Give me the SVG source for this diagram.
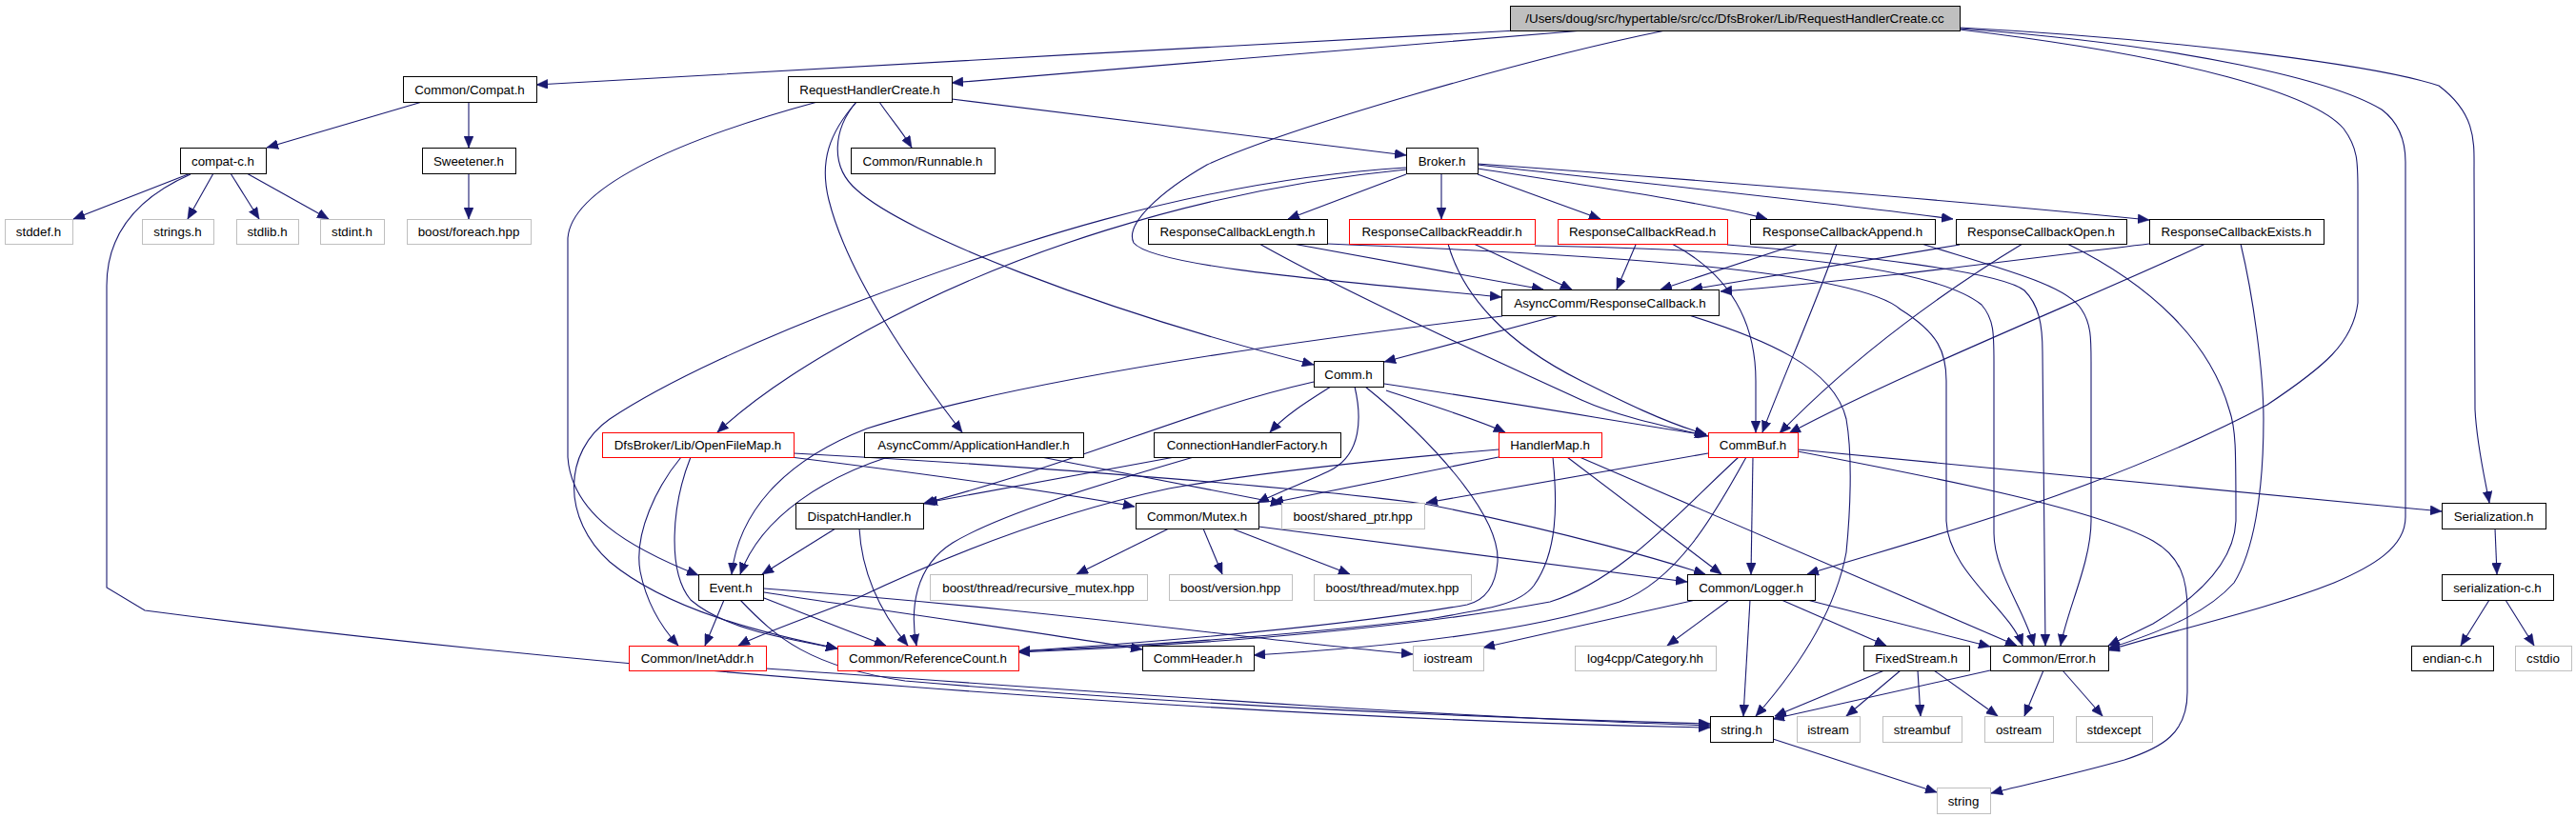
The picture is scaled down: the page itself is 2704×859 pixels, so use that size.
<svg xmlns="http://www.w3.org/2000/svg" width="2704" height="859" viewBox="0 0 2704 859">
<style>
.n{fill:#fff;stroke:#000;stroke-width:1}
.r{fill:#fff;stroke:#ff0000;stroke-width:1}
.g{fill:#fff;stroke:#bfbfbf;stroke-width:1}
.root{fill:#bfbfbf;stroke:#000;stroke-width:1}
text{font-family:"Liberation Sans",Arial,sans-serif;font-size:13.33px;fill:#000;text-anchor:middle}
#edges path{fill:none;stroke:#191970;stroke-width:1.1;marker-end:url(#a)}
</style>
<defs>
<marker id="a" markerUnits="userSpaceOnUse" markerWidth="13" markerHeight="10" refX="12" refY="5" orient="auto" viewBox="0 0 13 10"><path d="M0,0 L12,5 L0,10z" fill="#191970" stroke="#191970" stroke-width="0.5"/></marker>
</defs>
<rect width="2704" height="859" fill="#fff"/>
<g id="edges">
<path d="M1592,32 C1300,46 800,77 563,89"/>
<path d="M1662,32 C1500,45 1200,70 999,87"/>
<path d="M1748,32 C1600,62 1350,135 1267,173 C1220,200 1180,235 1190,255 C1210,280 1400,295 1576,312"/>
<path d="M2057,31 C2300,60 2430,100 2460,135 C2475,155 2475,170 2475,200 L2475,318 C2470,360 2440,385 2380,425 C2200,520 2000,570 1897,603"/>
<path d="M2057,30 C2300,48 2450,85 2500,115 C2520,130 2525,150 2525,170 L2525,543 C2525,575 2490,595 2450,612 C2380,640 2280,662 2213,683"/>
<path d="M2057,29 C2300,42 2500,70 2560,90 C2600,120 2597,150 2597,180 L2598,430 C2600,470 2610,510 2613,528"/>
<path d="M443,107 L280,155"/>
<path d="M492,107 L492,155"/>
<path d="M200,182 L77,230"/>
<path d="M224,182 L197,230"/>
<path d="M242,182 L272,230"/>
<path d="M259,182 L345,230"/>
<path d="M200,183 C150,205 112,240 112,300 L112,617 L152,641 C600,700 1300,755 1795,764"/>
<path d="M492,182 L492,230"/>
<path d="M923,107 C935,125 945,135 957,155"/>
<path d="M999,104 L1476,163"/>
<path d="M899,107 C875,135 870,175 900,200 C950,245 1150,325 1379,383"/>
<path d="M899,107 C870,140 860,170 870,210 C890,290 960,390 1010,454"/>
<path d="M858,107 C700,150 600,200 596,250 L596,480 C600,540 660,575 733,604"/>
<path d="M1476,183 L1352,230"/>
<path d="M1513,182 L1513,230"/>
<path d="M1551,183 L1680,230"/>
<path d="M1551,177 C1700,200 1800,215 1855,230"/>
<path d="M1551,173 C1700,190 1900,210 2050,230"/>
<path d="M1551,172 C1800,190 2100,215 2256,231"/>
<path d="M1476,178 C1250,200 1050,270 910,347 C860,375 800,410 753,454"/>
<path d="M1476,176 C1250,190 1050,260 900,317 C800,355 700,400 640,440 C590,475 590,545 640,590 C700,640 800,665 879,681"/>
<path d="M1357,256 L1620,304"/>
<path d="M1322,256 C1400,300 1550,370 1660,420 C1700,438 1750,448 1793,458"/>
<path d="M1393,256 C1700,268 1950,285 1995,325 C2035,350 2043,370 2043,400 L2043,547 C2045,600 2110,640 2123,678"/>
<path d="M1547,256 L1650,304"/>
<path d="M1520,256 C1535,310 1580,360 1660,400 C1700,420 1750,445 1791,456"/>
<path d="M1611,258 C1850,262 2030,280 2080,320 C2093,335 2093,350 2093,380 L2093,560 C2093,600 2125,640 2135,678"/>
<path d="M1717,257 L1697,304"/>
<path d="M1755,256 C1810,285 1843,330 1843,400 L1843,454"/>
<path d="M1813,257 C1950,268 2100,285 2125,305 C2140,320 2144,340 2144,370 L2147,678"/>
<path d="M1888,256 L1743,304"/>
<path d="M1928,256 C1910,310 1870,400 1850,454"/>
<path d="M2017,256 C2110,285 2170,300 2185,325 C2195,340 2195,355 2195,380 L2195,547 C2195,590 2170,640 2163,678"/>
<path d="M2057,257 L1775,304"/>
<path d="M2123,256 C2050,300 1950,370 1868,455"/>
<path d="M2170,256 C2260,300 2320,360 2340,430 C2347,450 2347,470 2347,547 C2345,590 2310,625 2260,655 L2213,678"/>
<path d="M2256,256 C2100,275 1950,295 1806,306"/>
<path d="M2315,256 C2200,310 2000,390 1878,455"/>
<path d="M2352,256 C2365,310 2376,390 2376,440 C2376,520 2365,580 2345,612 C2320,640 2280,660 2213,681"/>
<path d="M1637,331 L1453,380"/>
<path d="M1577,332 C1300,365 1050,405 910,450 C820,485 775,540 768,603"/>
<path d="M1773,331 C1850,355 1925,385 1938,440 C1945,480 1942,540 1938,580 C1925,650 1880,710 1843,752"/>
<path d="M1379,401 C1250,430 1150,480 969,529"/>
<path d="M1397,406 C1375,420 1350,435 1333,454"/>
<path d="M1422,406 C1430,440 1428,475 1400,492 C1380,503 1345,515 1320,528"/>
<path d="M1433,406 C1500,460 1575,540 1572,590 C1570,615 1560,630 1540,635 C1400,660 1200,675 1069,684"/>
<path d="M1455,410 C1500,425 1550,440 1580,454"/>
<path d="M1453,403 C1600,425 1700,443 1791,457"/>
<path d="M1573,472 C1420,485 1300,500 1227,513 C1100,540 980,590 900,628 C850,648 800,665 775,678"/>
<path d="M1573,480 L1335,528"/>
<path d="M1630,480 C1635,530 1635,580 1610,615 C1595,635 1560,640 1500,650 C1350,668 1200,678 1069,684"/>
<path d="M1645,480 L1807,603"/>
<path d="M1658,480 L2117,678"/>
<path d="M1840,480 L1838,603"/>
<path d="M1825,480 C1760,540 1700,610 1627,632 C1450,665 1200,680 1069,685"/>
<path d="M1833,480 C1800,540 1760,610 1700,632 C1600,665 1450,680 1316,688"/>
<path d="M1793,476 L1497,528"/>
<path d="M1887,472 L2563,537"/>
<path d="M1887,474 C2050,505 2200,535 2260,568 C2290,585 2296,610 2296,640 L2296,727 C2296,770 2270,785 2230,798 C2170,815 2120,825 2090,833"/>
<path d="M1227,555 L1130,603"/>
<path d="M1263,555 L1283,603"/>
<path d="M1293,555 L1417,603"/>
<path d="M1321,553 L1771,611"/>
<path d="M833,476 C1100,490 1400,515 1500,530 C1650,560 1750,590 1790,603"/>
<path d="M830,480 C950,495 1100,515 1191,532"/>
<path d="M715,480 C690,510 665,560 672,600 C680,640 700,665 712,678"/>
<path d="M725,480 C705,530 700,600 725,630 C760,660 820,670 879,681"/>
<path d="M932,480 C870,500 800,540 777,603"/>
<path d="M1093,480 L1346,529"/>
<path d="M877,555 L800,603"/>
<path d="M902,555 C905,610 930,650 953,678"/>
<path d="M1233,480 L972,528"/>
<path d="M1253,480 C1150,510 1050,540 1000,570 C960,595 955,640 962,678"/>
<path d="M760,630 L740,678"/>
<path d="M802,628 L930,678"/>
<path d="M802,622 C950,645 1100,665 1199,682"/>
<path d="M802,618 C1100,640 1300,670 1483,687"/>
<path d="M777,630 C815,670 850,700 950,715 C1300,745 1600,755 1795,760"/>
<path d="M804,702 C1200,730 1500,752 1795,762"/>
<path d="M1815,630 L1750,678"/>
<path d="M1780,630 L1557,680"/>
<path d="M1837,630 L1830,752"/>
<path d="M1870,630 L1980,678"/>
<path d="M1897,630 L2089,679"/>
<path d="M1978,704 L1863,752"/>
<path d="M1995,704 L1938,752"/>
<path d="M2013,704 L2016,752"/>
<path d="M2030,704 L2097,752"/>
<path d="M2089,704 L1861,755"/>
<path d="M2145,704 L2125,752"/>
<path d="M2165,704 L2207,752"/>
<path d="M1861,776 L2033,832"/>
<path d="M2619,555 L2621,603"/>
<path d="M2613,630 L2583,678"/>
<path d="M2630,630 L2660,678"/>
</g>
<g id="root"><rect class="root" x="1585.5" y="6.5" width="472" height="26"/><text x="1821" y="24">/Users/doug/src/hypertable/src/cc/DfsBroker/Lib/RequestHandlerCreate.cc</text></g>
<g id="compat"><rect class="n" x="423.5" y="80.5" width="140" height="27"/><text x="493" y="98.5">Common/Compat.h</text></g>
<g id="rhc"><rect class="n" x="827.5" y="80.5" width="172" height="27"/><text x="913" y="98.5">RequestHandlerCreate.h</text></g>
<g id="compatc"><rect class="n" x="189.5" y="155.5" width="90" height="27"/><text x="234" y="173.5">compat-c.h</text></g>
<g id="sweetener"><rect class="n" x="443.5" y="155.5" width="98" height="27"/><text x="492" y="173.5">Sweetener.h</text></g>
<g id="runnable"><rect class="n" x="893.5" y="155.5" width="151" height="27"/><text x="968.5" y="173.5">Common/Runnable.h</text></g>
<g id="broker"><rect class="n" x="1476.5" y="155.5" width="75" height="27"/><text x="1513.5" y="173.5">Broker.h</text></g>
<g id="stddef"><rect class="g" x="5.5" y="230.5" width="71" height="26"/><text x="40.5" y="248">stddef.h</text></g>
<g id="strings"><rect class="g" x="149.5" y="230.5" width="75" height="26"/><text x="186.5" y="248">strings.h</text></g>
<g id="stdlib"><rect class="g" x="248.5" y="230.5" width="65" height="26"/><text x="280.5" y="248">stdlib.h</text></g>
<g id="stdint"><rect class="g" x="336.5" y="230.5" width="67" height="26"/><text x="369.5" y="248">stdint.h</text></g>
<g id="foreach"><rect class="g" x="427.5" y="230.5" width="130" height="26"/><text x="492" y="248">boost/foreach.hpp</text></g>
<g id="length"><rect class="n" x="1205.5" y="230.5" width="188" height="26"/><text x="1299" y="248">ResponseCallbackLength.h</text></g>
<g id="readdir"><rect class="r" x="1416.5" y="230.5" width="195" height="26"/><text x="1513.5" y="248">ResponseCallbackReaddir.h</text></g>
<g id="read"><rect class="r" x="1635.5" y="230.5" width="178" height="26"/><text x="1724" y="248">ResponseCallbackRead.h</text></g>
<g id="append"><rect class="n" x="1837.5" y="230.5" width="194" height="26"/><text x="1934" y="248">ResponseCallbackAppend.h</text></g>
<g id="open"><rect class="n" x="2053.5" y="230.5" width="179" height="26"/><text x="2142.5" y="248">ResponseCallbackOpen.h</text></g>
<g id="exists"><rect class="n" x="2256.5" y="230.5" width="183" height="26"/><text x="2347.5" y="248">ResponseCallbackExists.h</text></g>
<g id="respcb"><rect class="n" x="1576.5" y="304.5" width="228" height="27"/><text x="1690" y="322.5">AsyncComm/ResponseCallback.h</text></g>
<g id="comm"><rect class="n" x="1379.5" y="379.5" width="73" height="27"/><text x="1415.5" y="397.5">Comm.h</text></g>
<g id="openfilemap"><rect class="r" x="632.5" y="454.5" width="201" height="26"/><text x="732.5" y="472">DfsBroker/Lib/OpenFileMap.h</text></g>
<g id="apphandler"><rect class="n" x="907.5" y="454.5" width="230" height="26"/><text x="1022" y="472">AsyncComm/ApplicationHandler.h</text></g>
<g id="connfactory"><rect class="n" x="1211.5" y="454.5" width="196" height="26"/><text x="1309" y="472">ConnectionHandlerFactory.h</text></g>
<g id="handlermap"><rect class="r" x="1573.5" y="454.5" width="108" height="26"/><text x="1627" y="472">HandlerMap.h</text></g>
<g id="commbuf"><rect class="r" x="1793.5" y="454.5" width="94" height="26"/><text x="1840" y="472">CommBuf.h</text></g>
<g id="dispatch"><rect class="n" x="835.5" y="528.5" width="134" height="27"/><text x="902" y="546.5">DispatchHandler.h</text></g>
<g id="mutex"><rect class="n" x="1192.5" y="528.5" width="129" height="27"/><text x="1256.5" y="546.5">Common/Mutex.h</text></g>
<g id="sharedptr"><rect class="g" x="1345.5" y="528.5" width="150" height="27"/><text x="1420" y="546.5">boost/shared_ptr.hpp</text></g>
<g id="serialization"><rect class="n" x="2563.5" y="528.5" width="109" height="27"/><text x="2617.5" y="546.5">Serialization.h</text></g>
<g id="event"><rect class="n" x="733.5" y="603.5" width="68" height="27"/><text x="767" y="621.5">Event.h</text></g>
<g id="recmutex"><rect class="g" x="976.5" y="603.5" width="228" height="27"/><text x="1090" y="621.5">boost/thread/recursive_mutex.hpp</text></g>
<g id="version"><rect class="g" x="1227.5" y="603.5" width="129" height="27"/><text x="1291.5" y="621.5">boost/version.hpp</text></g>
<g id="tmutex"><rect class="g" x="1379.5" y="603.5" width="165" height="27"/><text x="1461.5" y="621.5">boost/thread/mutex.hpp</text></g>
<g id="logger"><rect class="n" x="1771.5" y="603.5" width="134" height="27"/><text x="1838" y="621.5">Common/Logger.h</text></g>
<g id="serialc"><rect class="n" x="2563.5" y="603.5" width="117" height="27"/><text x="2621.5" y="621.5">serialization-c.h</text></g>
<g id="inetaddr"><rect class="r" x="660.5" y="678.5" width="144" height="26"/><text x="732" y="696">Common/InetAddr.h</text></g>
<g id="refcount"><rect class="r" x="879.5" y="678.5" width="190" height="26"/><text x="974" y="696">Common/ReferenceCount.h</text></g>
<g id="commheader"><rect class="n" x="1199.5" y="678.5" width="117" height="26"/><text x="1257.5" y="696">CommHeader.h</text></g>
<g id="iostream"><rect class="g" x="1483.5" y="678.5" width="74" height="26"/><text x="1520" y="696">iostream</text></g>
<g id="category"><rect class="g" x="1653.5" y="678.5" width="148" height="26"/><text x="1727" y="696">log4cpp/Category.hh</text></g>
<g id="fixedstream"><rect class="n" x="1956.5" y="678.5" width="111" height="26"/><text x="2011.5" y="696">FixedStream.h</text></g>
<g id="error"><rect class="n" x="2089.5" y="678.5" width="124" height="26"/><text x="2151" y="696">Common/Error.h</text></g>
<g id="endian"><rect class="n" x="2531.5" y="678.5" width="86" height="26"/><text x="2574" y="696">endian-c.h</text></g>
<g id="cstdio"><rect class="g" x="2640.5" y="678.5" width="59" height="26"/><text x="2669.5" y="696">cstdio</text></g>
<g id="stringh"><rect class="n" x="1795.5" y="752.5" width="66" height="27"/><text x="1828" y="770.5">string.h</text></g>
<g id="istream"><rect class="g" x="1886.5" y="752.5" width="66" height="27"/><text x="1919" y="770.5">istream</text></g>
<g id="streambuf"><rect class="g" x="1976.5" y="752.5" width="83" height="27"/><text x="2017.5" y="770.5">streambuf</text></g>
<g id="ostream"><rect class="g" x="2083.5" y="752.5" width="72" height="27"/><text x="2119" y="770.5">ostream</text></g>
<g id="stdexcept"><rect class="g" x="2179.5" y="752.5" width="80" height="27"/><text x="2219" y="770.5">stdexcept</text></g>
<g id="string"><rect class="g" x="2033.5" y="827.5" width="56" height="27"/><text x="2061" y="845.5">string</text></g>
</svg>
